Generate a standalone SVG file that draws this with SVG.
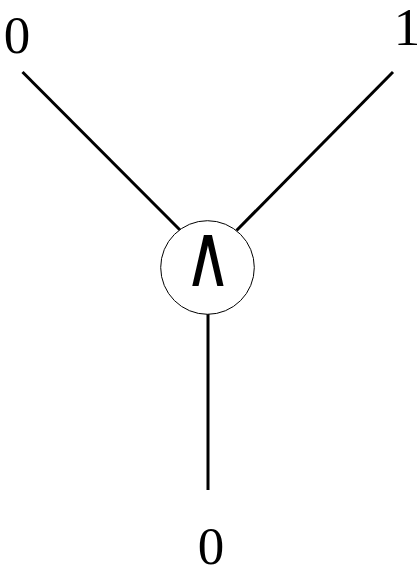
<svg xmlns="http://www.w3.org/2000/svg" width="417" height="570" viewBox="0 0 417 570">
<style>
.lbl{font-family:"Liberation Serif","Times New Roman",serif;font-size:53px;fill:#000;text-anchor:middle}
.edge{stroke:#000;stroke-width:3;fill:none}
</style>
<rect width="417" height="570" fill="#fff"/>
<g id="connectors">
<line class="edge" x1="22.5" y1="72" x2="180.5" y2="230.5"/>
<line class="edge" x1="393" y1="72" x2="236.5" y2="230.5"/>
<line class="edge" x1="208" y1="314" x2="208" y2="490"/>
</g>
<g id="and">
<circle cx="207.5" cy="267.5" r="46.8" fill="#fff" stroke="#000" stroke-width="1"/>
<text x="208" y="286" font-family="DejaVu Sans, sans-serif" font-size="88" text-anchor="middle" transform="translate(208 0) scale(0.75 1) translate(-208 0)">∧</text>
</g>
<g id="in0"><text class="lbl" x="17" y="53">0</text></g>
<g id="in1"><text class="lbl" x="407" y="45">1</text></g>
<g id="out"><text class="lbl" x="211" y="564">0</text></g>
</svg>
